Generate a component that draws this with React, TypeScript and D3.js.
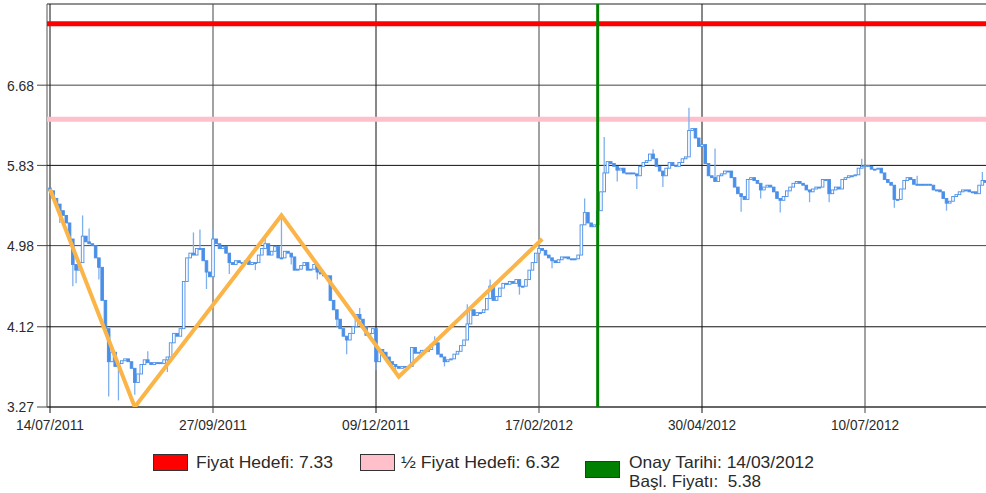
import React from "react";
import * as d3 from "d3";

// ---- data ----
const closes: number[] = [
  5.56, 5.48, 5.42, 5.35, 5.30, 5.22, 5.05, 4.78, 4.72, 4.80,
  5.08, 5.02, 5.00, 4.98, 4.85, 4.75, 4.40, 4.10, 3.75, 3.85,
  3.70, 3.73, 3.76, 3.78, 3.75, 3.68, 3.53, 3.62, 3.72, 3.77,
  3.74, 3.72, 3.74, 3.74, 3.73, 3.77, 3.80, 3.95, 4.05, 4.02,
  4.10, 4.60, 4.85, 4.90, 4.88, 4.95, 4.95, 4.82, 4.70, 4.65,
  5.05, 5.00, 4.95, 4.97, 4.90, 4.80, 4.78, 4.82, 4.80, 4.80,
  4.82, 4.78, 4.80, 4.80, 4.88, 4.95, 5.00, 4.88, 4.92, 4.97,
  4.85, 4.85, 4.92, 4.90, 4.86, 4.72, 4.73, 4.77, 4.80, 4.72,
  4.73, 4.78, 4.70, 4.68, 4.66, 4.66, 4.40, 4.30, 4.20, 4.10,
  4.02, 3.98, 4.05, 4.12, 4.25, 4.20, 4.12, 4.03, 4.05, 4.10,
  3.75, 3.88, 3.85, 3.80, 3.75, 3.72, 3.70, 3.68, 3.70, 3.69,
  3.70, 3.90, 3.84, 3.85, 3.87, 3.86, 3.88, 3.93, 3.95, 3.83,
  3.80, 3.75, 3.77, 3.78, 3.83, 3.86, 3.92, 3.98, 4.15, 4.30,
  4.24, 4.27, 4.27, 4.30, 4.42, 4.55, 4.40, 4.44, 4.53, 4.58,
  4.57, 4.60, 4.58, 4.62, 4.55, 4.55, 4.62, 4.72, 4.80, 4.90,
  4.95, 4.93, 4.88, 4.85, 4.82, 4.80, 4.83, 4.86, 4.86, 4.84,
  4.84, 4.84, 4.88, 5.20, 5.33, 5.22, 5.18, 5.20, 5.35, 5.55,
  5.75, 5.87, 5.85, 5.82, 5.78, 5.80, 5.75, 5.75, 5.75, 5.74,
  5.72, 5.82, 5.86, 5.88, 5.95, 5.90, 5.82, 5.77, 5.72, 5.80,
  5.86, 5.83, 5.82, 5.86, 5.90, 5.92, 6.20, 6.22, 6.12, 6.03,
  6.05, 5.85, 5.72, 5.70, 5.66, 5.72, 5.74, 5.77, 5.77, 5.70,
  5.60, 5.53, 5.50, 5.47, 5.68, 5.70, 5.67, 5.64, 5.57, 5.60,
  5.62, 5.60, 5.55, 5.48, 5.46, 5.50, 5.56, 5.60, 5.64, 5.66,
  5.64, 5.62, 5.57, 5.55, 5.58, 5.60, 5.60, 5.68, 5.68, 5.53,
  5.57, 5.60, 5.58, 5.68, 5.70, 5.72, 5.72, 5.73, 5.80, 5.82,
  5.83, 5.82, 5.79, 5.79, 5.80, 5.75, 5.68, 5.65, 5.62, 5.47,
  5.47, 5.58, 5.67, 5.70, 5.68, 5.63, 5.63, 5.63, 5.63, 5.63,
  5.62, 5.57, 5.57, 5.55, 5.48, 5.43, 5.45, 5.50, 5.52, 5.55,
  5.57, 5.57, 5.55, 5.55, 5.53, 5.62, 5.67, 5.65,
];

const wickIndex: number[] = [
  3, 7, 8, 10, 12, 15, 18, 21, 26, 30, 36, 44, 46, 48, 50, 55, 63, 66, 71, 74,
  82, 88, 91, 95, 100, 106, 118, 121, 128, 135, 144, 150, 154, 164, 170, 174,
  180, 185, 188, 196, 201, 204, 212, 218, 224, 233, 239, 249, 259, 266, 275, 286,
];
const wickValue: number[] = [
  5.22, 4.55, 4.58, 5.30, 5.16, 4.62, 3.38, 3.34, 3.40, 3.86, 3.64, 5.12, 5.15, 4.52, 5.16, 4.68, 4.72, 5.08, 5.28, 4.78,
  4.62, 4.12, 3.83, 4.32, 3.66, 3.62, 4.02, 3.70, 4.36, 4.62, 4.46, 5.02, 4.74, 5.48, 6.13, 5.66,
  5.58, 6.00, 5.60, 6.44, 5.96, 6.01, 5.34, 5.48, 5.33, 5.44, 5.44, 5.90, 5.38, 5.72, 5.35, 5.76,
];

const zigzagIndex: number[] = [0, 26, 71, 107, 151];
const zigzagValue: number[] = [5.58, 3.27, 5.30, 3.59, 5.05];

const yTicks: number[] = [3.27, 4.12, 4.98, 5.83, 6.68];
const xTickIndex: number[] = [0, 50, 100, 150, 200, 250];
const xTickLabels: string[] = ["14/07/2011", "27/09/2011", "09/12/2011", "17/02/2012", "30/04/2012", "10/07/2012"];

const priceTarget = 7.33;
const halfTarget = 6.32;
const confirmIndex = 168;

const legendLabels: string[] = ["Fiyat Hedefi: 7.33", "½ Fiyat Hedefi: 6.32", "Onay Tarihi: 14/03/2012", "Başl. Fiyatı:  5.38"];

// ---- layout ----
const W = 986;
const H = 493;
const plotLeft = 47;
const plotTop = 4;
const plotBottom = 407;
const plotRight = 995;

const x = d3.scaleLinear().domain([0, 50]).range([50, 213]);
const y = d3.scaleLinear().domain([3.27, 7.54]).range([plotBottom, plotTop]);

const BLUE = "#4a8fe7";
const WICK = "#7fb0ee";
const FONT = "'Liberation Sans', Arial, sans-serif";
const TEXT = "#2a2a2a";

export default function App() {
  const zig = d3
    .line<number>()
    .x((_, i) => x(zigzagIndex[i]))
    .y((d) => y(d))(zigzagValue) as string;

  const candles = closes.map((c, i) => {
    const o = i === 0 ? c + 0.03 : closes[i - 1];
    const up = c > o;
    const top = y(Math.max(o, c));
    const bot = y(Math.min(o, c));
    const cx = x(i);
    return (
      <rect
        key={i}
        x={cx - 1.3}
        y={top}
        width={2.6}
        height={Math.max(bot - top, 1)}
        fill={up ? "#ffffff" : BLUE}
        stroke={BLUE}
        strokeWidth={0.9}
      />
    );
  });

  const wicks = wickIndex.map((idx, k) => {
    const c = closes[idx];
    const o = idx === 0 ? c : closes[idx - 1];
    const v = wickValue[k];
    const from = v > c ? Math.max(o, c) : Math.min(o, c);
    return (
      <line key={k} x1={x(idx)} x2={x(idx)} y1={y(from)} y2={y(v)} stroke={WICK} strokeWidth={1.3} />
    );
  });

  const legendFont = 16.5;

  return (
    <svg
      width={W}
      height={H}
      style={{ position: "absolute", left: 0, top: 0, background: "#fff" }}
      fontFamily={FONT}
    >
      <defs>
        <clipPath id="plot">
          <rect x={plotLeft} y={plotTop} width={plotRight - plotLeft} height={plotBottom - plotTop} />
        </clipPath>
      </defs>
      {/* frame */}
      <line x1={plotLeft} x2={plotRight} y1={plotTop} y2={plotTop} stroke="#222" strokeWidth={1} />
      <line x1={plotLeft} x2={plotLeft} y1={plotTop} y2={plotBottom} stroke="#555" strokeWidth={1} />
      {/* horizontal grid */}
      {yTicks.map((t, i) => (
        <g key={"y" + i}>
          <line
            x1={plotLeft}
            x2={plotRight}
            y1={y(t)}
            y2={y(t)}
            stroke={i === 0 ? "#666" : i % 2 === 0 ? "#444" : "#111"}
            strokeWidth={i === 0 ? 2 : 1}
          />
          <line x1={37} x2={plotLeft} y1={y(t)} y2={y(t)} stroke="#444" strokeWidth={1} />
          <text
            x={34}
            y={y(t)}
            dy="0.36em"
            textAnchor="end"
            fontSize={15}
            fill={TEXT}
            textLength={27}
            lengthAdjust="spacingAndGlyphs"
          >
            {t.toFixed(2)}
          </text>
        </g>
      ))}
      {/* vertical grid */}
      {xTickIndex.map((t, i) => (
        <g key={"x" + i}>
          <line x1={x(t)} x2={x(t)} y1={plotTop} y2={plotBottom + 6} stroke={i % 2 ? "#444" : "#111"} strokeWidth={1} />
          <text
            x={x(t) - 34}
            y={430}
            fontSize={15.5}
            fill={TEXT}
            textLength={68}
            lengthAdjust="spacingAndGlyphs"
          >
            {xTickLabels[i]}
          </text>
        </g>
      ))}
      <g clipPath="url(#plot)">
        {/* target lines */}
        <line x1={plotLeft} x2={plotRight} y1={y(priceTarget)} y2={y(priceTarget)} stroke="#ff0000" strokeWidth={5} />
        <line x1={plotLeft} x2={plotRight} y1={y(halfTarget)} y2={y(halfTarget)} stroke="#ffc0cb" strokeWidth={5} />
        {/* price candles */}
        {wicks}
        {candles}
        {/* zigzag */}
        <path d={zig} fill="none" stroke="#fbb448" strokeWidth={4} strokeLinejoin="miter" />
        {/* confirmation date */}
        <line x1={x(confirmIndex)} x2={x(confirmIndex)} y1={plotTop} y2={plotBottom} stroke="#008000" strokeWidth={3} />
      </g>
      {/* legend */}
      <rect x={153.5} y={454.5} width={34} height={16} fill="#ff0000" stroke="#333" strokeWidth={1} />
      <text x={196} y={468} fontSize={legendFont} fill={TEXT} textLength={137} lengthAdjust="spacingAndGlyphs">
        {legendLabels[0]}
      </text>
      <rect x={360.5} y={454.5} width={34} height={16} fill="#ffc0cb" stroke="#333" strokeWidth={1} />
      <text x={401} y={468} fontSize={legendFont} fill={TEXT} textLength={159} lengthAdjust="spacingAndGlyphs">
        {legendLabels[1]}
      </text>
      <rect x={585.5} y={461.5} width={34} height={16} fill="#008000" stroke="#333" strokeWidth={1} />
      <text x={629} y={468} fontSize={legendFont} fill={TEXT} textLength={185} lengthAdjust="spacingAndGlyphs">
        {legendLabels[2]}
      </text>
      <text
        x={629}
        y={487}
        fontSize={legendFont}
        fill={TEXT}
        textLength={132}
        lengthAdjust="spacingAndGlyphs"
        style={{ whiteSpace: "pre" }}
      >
        {legendLabels[3]}
      </text>
    </svg>
  );
}
